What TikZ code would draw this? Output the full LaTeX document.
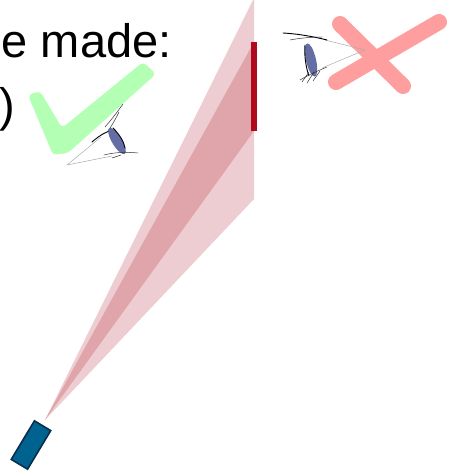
\documentclass[tikz,border=0pt]{standalone}
\usepackage{fontspec}
\setmainfont{Liberation Sans}
\usepackage{xcolor}
\usepackage{tikz}
\usetikzlibrary{positioning}
\definecolor{beamlight}{RGB}{237,205,209}
\definecolor{beamdark}{RGB}{224,164,171}
\definecolor{screenred}{RGB}{176,10,30}
\definecolor{camfill}{RGB}{0,98,143}
\definecolor{camline}{RGB}{10,45,75}
\definecolor{okgreen}{RGB}{179,255,179}
\definecolor{badpink}{RGB}{255,158,158}
\definecolor{iris}{RGB}{100,110,165}
\tikzset{
  big/.style={inner sep=0pt,anchor=base west,font=\fontsize{47}{56}\selectfont},
  lid/.style={draw=black,line width=0.9pt,line cap=round},
  lash/.style={draw=black!80,line width=0.5pt,line cap=round},
  sight/.style={draw=gray!65,line width=0.5pt},
  xstroke/.style={draw=badpink,line width=16pt,line cap=round},
}

\begin{document}
\begin{tikzpicture}[x=1pt,y=-1pt]
  \useasboundingbox (0,0) rectangle (454,473);
  \fill[beamlight] (45,420) -- (254,-2) -- (254,199) -- cycle;
  \fill[beamdark] (45,420) -- (254,42) -- (254,131) -- cycle;
  \fill[screenred] (251,42) rectangle (257,131);
  \node[rotate=59,draw=camline,line width=1.6pt,fill=camfill,minimum width=45pt,minimum height=19pt,inner sep=0pt] (cam) at (31,445) {};

  \node[big] (title) at (1.5,58) {e made:};
  \node[big] (paren) at (-1,122) {)};

  \fill[okgreen,rounded corners=4pt] (28,95) -- (53,155) -- (68,153) -- (156,74) -- (143,62) -- (62,128) -- (40,91) -- cycle;
  \draw[xstroke] (340,24) -- (403,86);
  \draw[xstroke] (439,22) -- (336,82);

  % eye looking at the screen from below
  \coordinate (eyeA) at (67,165);
  \draw[sight] (eyeA) -- (101,137);
  \draw[sight] (eyeA) -- (112,156);
  \draw[lid] (92,142) .. controls (100,135) and (107,131) .. (114,130);
  \draw[lash] (105,127) .. controls (112,119) and (118,111) .. (123,104);
  \draw[lash] (108,131) .. controls (113,124) and (116,118) .. (119,112);
  \fill[iris,rotate around={-59:(117,141)}] (117,141) ellipse (15 and 5);
  \draw[lid] (113,128) .. controls (120,135) and (124,142) .. (125,148);
  \draw[lash] (104,155) .. controls (115,152) and (128,152) .. (138,153);
  \draw[lash] (112,158) -- (121,155);

  % eye looking at the screen from the side
  \coordinate (eyeB) at (365,50);
  \draw[sight] (eyeB) -- (325,40);
  \draw[sight] (eyeB) -- (322,68);
  \draw[lid] (283,33) .. controls (300,34) and (315,37) .. (327,40);
  \draw[lash] (290,40) .. controls (300,38) and (312,37) .. (322,37);
  \fill[iris,rotate around={103:(311,60)}] (311,60) ellipse (17 and 5);
  \draw[lid] (305,45) .. controls (304,55) and (306,68) .. (309,76);
  \draw[lash] (302,82) -- (309,72);
  \draw[lash] (307,83) -- (314,72);
  \draw[lash] (313,81) -- (320,71);
  \draw[lash] (300,80) .. controls (310,74) and (320,70) .. (327,67);
\end{tikzpicture}
\end{document}
